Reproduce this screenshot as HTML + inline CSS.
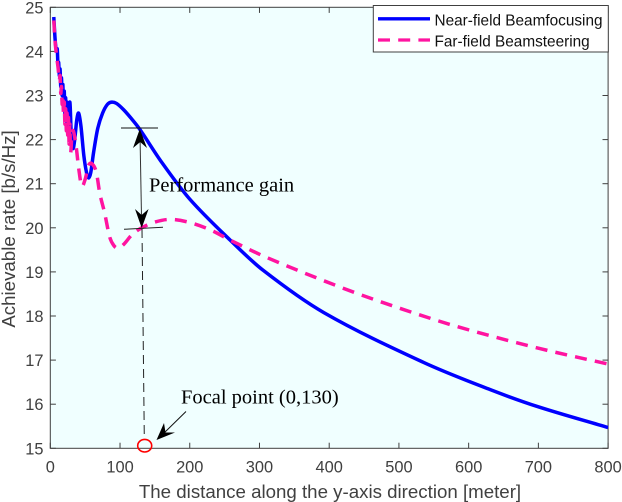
<!DOCTYPE html>
<html>
<head>
<meta charset="utf-8">
<style>
html,body{margin:0;padding:0;background:#fff;}
svg{display:block;}
text{font-family:"Liberation Sans",sans-serif;}
.serif{font-family:"Liberation Serif",serif;fill:#000;font-size:20.5px;}
</style>
</head>
<body>
<svg id="chart" width="622" height="502" viewBox="0 0 622 502" xmlns="http://www.w3.org/2000/svg">
<defs>
<clipPath id="plot-clip"><rect x="50.3" y="7" width="558" height="442"/></clipPath>
</defs>
<rect x="50.3" y="7.3" width="557.8" height="441" fill="#f0ffff"/>
<g id="ticks"></g>
<rect x="50.3" y="7.3" width="557.8" height="441" fill="none" stroke="#404040" stroke-width="1"/>
<g id="series" clip-path="url(#plot-clip)"></g>
<g id="labels" font-size="16.4" fill="#404040"></g>
<text x="330" y="498" font-size="18.7" fill="#404040" text-anchor="middle">The distance along the y-axis direction [meter]</text>
<text transform="translate(15 229) rotate(-90)" font-size="18.7" fill="#404040" text-anchor="middle">Achievable rate [b/s/Hz]</text>

<g>
<line x1="121" y1="128" x2="158" y2="128" stroke="#111" stroke-width="1"/>
<line x1="124" y1="229.3" x2="163" y2="227.3" stroke="#222" stroke-width="1"/>
<line x1="140" y1="135" x2="141.6" y2="222" stroke="#333" stroke-width="1"/>
<path d="M139.8 129 L147 148 L140.2 142 L133 148 Z" fill="#000"/>
<path d="M141.7 228 L135 209 L141.6 215 L148.6 209 Z" fill="#000"/>
<line x1="142" y1="229" x2="144.3" y2="438" stroke="#222" stroke-width="1" stroke-dasharray="9 5"/>
<ellipse cx="144.7" cy="445.7" rx="7" ry="6.3" fill="none" stroke="#ff0000" stroke-width="1.6"/>
<line x1="186" y1="411.5" x2="162" y2="435" stroke="#111" stroke-width="1"/>
<path d="M156.5 440 L164 423 L165.5 432.5 L175 432.5 Z" fill="#000"/>
<text class="serif" x="149" y="191.5">Performance gain</text>
<text class="serif" x="181" y="403.5">Focal point (0,130)</text>
</g>

<g>
<rect x="373.3" y="5.5" width="235" height="46.5" fill="#fff" stroke="#404040" stroke-width="1"/>
<line x1="378" y1="18.8" x2="430" y2="18.8" stroke="#0000ff" stroke-width="3.3"/>
<text x="434.5" y="25.5" font-size="15.35" fill="#111">Near-field Beamfocusing</text>
<line x1="378" y1="40" x2="430" y2="40" stroke="#ff14a0" stroke-width="3.3" stroke-dasharray="12 8.2"/>
<text x="434.5" y="46.5" font-size="15.35" fill="#111">Far-field Beamsteering</text>
</g>
</svg>
<script>
const xTickLabels = [0, 100, 200, 300, 400, 500, 600, 700, 800];
const yTickLabels = [15, 16, 17, 18, 19, 20, 21, 22, 23, 24, 25];

const nearDistance = [5, 7, 9, 10, 11, 12, 13, 14, 15, 16, 17, 18, 19, 20, 21, 22, 23, 24, 25, 26, 27, 28, 30, 32.5, 35, 38, 40.7, 44, 48, 52, 55, 58, 62, 68, 75, 82, 88, 95, 105, 115, 128, 160, 200, 258, 305, 392, 535, 631, 700, 800];
const nearRate = [24.78, 24.25, 24.0, 24.05, 23.7, 23.75, 23.45, 23.6, 23.2, 23.4, 23.0, 23.25, 22.7, 23.1, 22.5, 22.95, 22.4, 22.85, 22.2, 22.8, 22.1, 22.85, 22.15, 21.8, 22.0, 22.45, 22.6, 22.3, 21.65, 21.25, 21.13, 21.25, 21.7, 22.25, 22.6, 22.8, 22.85, 22.82, 22.68, 22.5, 22.24, 21.48, 20.65, 19.72, 19.04, 18.08, 16.95, 16.33, 15.94, 15.47];

const farDistance = [5, 7, 9, 11, 13, 14, 15, 16, 17, 18, 19, 20, 21, 22, 23, 24, 25, 26, 27, 28, 29, 31, 33, 37, 40.7, 45, 50, 55, 60, 66, 71, 78, 85, 91, 97, 105, 117, 131, 150, 172, 200, 230, 258, 310, 420, 504, 588, 700, 800];
const farRate = [24.7, 24.2, 23.9, 23.65, 23.35, 23.45, 23.05, 23.2, 22.8, 23.0, 22.55, 22.85, 22.35, 22.7, 22.2, 22.6, 22.1, 22.5, 21.9, 22.35, 21.7, 22.1, 22.2, 21.85, 21.35, 20.95, 21.1, 21.42, 21.45, 21.26, 20.78, 20.33, 19.8, 19.6, 19.54, 19.62, 19.84, 20.0, 20.13, 20.19, 20.12, 19.95, 19.72, 19.33, 18.63, 18.16, 17.74, 17.27, 16.91];

const NS = 'http://www.w3.org/2000/svg';
const xScale = v => 50.3 + (v / 800) * 557.8;
const yScale = v => 448.3 - (v - 15) * 44.1;

function smoothPath(xs, ys) {
  const p = xs.map((x, i) => [xScale(x), yScale(ys[i])]);
  let d = 'M' + p[0][0].toFixed(2) + ' ' + p[0][1].toFixed(2);
  for (let i = 0; i < p.length - 1; i++) {
    const a = p[Math.max(i - 1, 0)], b = p[i], c = p[i + 1], e = p[Math.min(i + 2, p.length - 1)];
    const span = c[0] - b[0];
    const c1x = b[0] + span / 3, c1y = b[1] + (c[1] - a[1]) / (c[0] - a[0]) * span / 3;
    const c2x = c[0] - span / 3, c2y = c[1] - (e[1] - b[1]) / (e[0] - b[0]) * span / 3;
    d += ' C' + c1x.toFixed(2) + ' ' + c1y.toFixed(2) + ' ' + c2x.toFixed(2) + ' ' + c2y.toFixed(2) + ' ' + c[0].toFixed(2) + ' ' + c[1].toFixed(2);
  }
  return d;
}

const seriesGroup = document.getElementById('series');
const tickGroup = document.getElementById('ticks');
const labelGroup = document.getElementById('labels');

const nearLine = document.createElementNS(NS, 'path');


nearLine.setAttribute('d', smoothPath(nearDistance, nearRate));
nearLine.setAttribute('fill', 'none');
nearLine.setAttribute('stroke', '#0000ff');
nearLine.setAttribute('stroke-width', '3.5');
seriesGroup.appendChild(nearLine);

const farLine = document.createElementNS(NS, 'path');


farLine.setAttribute('d', smoothPath(farDistance, farRate));
farLine.setAttribute('fill', 'none');
farLine.setAttribute('stroke', '#ff14a0');
farLine.setAttribute('stroke-width', '3.5');
farLine.setAttribute('stroke-dasharray', '12 8.2');
seriesGroup.appendChild(farLine);

function addTick(x1, y1, x2, y2) {
  const t = document.createElementNS(NS, 'line');
  
  
  t.setAttribute('x1', x1);
  t.setAttribute('y1', y1);
  t.setAttribute('x2', x2);
  t.setAttribute('y2', y2);
  t.setAttribute('stroke', '#404040');
  t.setAttribute('stroke-width', '1');
  tickGroup.appendChild(t);
}

xTickLabels.forEach(v => {
  const x = xScale(v);
  addTick(x, 448.3, x, 442.7);
  addTick(x, 7.3, x, 12.9);
  const l = document.createElementNS(NS, 'text');
  
  
  l.setAttribute('x', x);
  l.setAttribute('y', 472.5);
  l.setAttribute('text-anchor', 'middle');
  l.textContent = v;
  labelGroup.appendChild(l);
});

yTickLabels.forEach(v => {
  const y = yScale(v);
  addTick(50.3, y, 55.9, y);
  addTick(608.1, y, 602.5, y);
  const l = document.createElementNS(NS, 'text');
  
  
  l.setAttribute('x', 43.5);
  l.setAttribute('y', y + 6);
  l.setAttribute('text-anchor', 'end');
  l.textContent = v;
  labelGroup.appendChild(l);
});
</script>
</body>
</html>
